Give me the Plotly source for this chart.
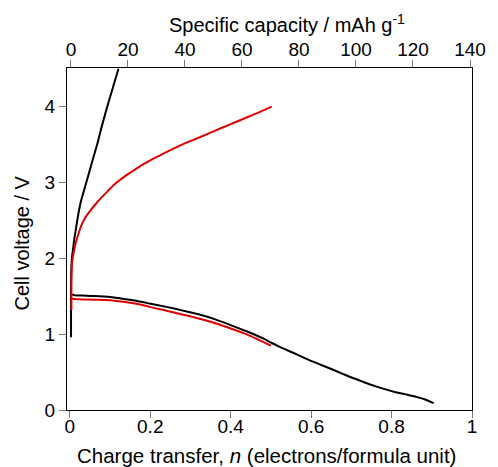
import plotly.graph_objects as go

# Charge transfer n (electrons per formula unit) and cell voltage (V)
black_dis_n = [0.006, 0.01, 0.03, 0.06, 0.10, 0.14, 0.18, 0.198, 0.24, 0.279, 0.32, 0.36,
               0.40, 0.441, 0.482, 0.50, 0.523, 0.555, 0.584, 0.62, 0.65, 0.677, 0.702,
               0.73, 0.759, 0.783, 0.81, 0.84, 0.864, 0.885, 0.905]
black_dis_v = [1.53, 1.515, 1.51, 1.504, 1.49, 1.46, 1.425, 1.404, 1.36, 1.314, 1.262, 1.198,
               1.12, 1.035, 0.94, 0.89, 0.83, 0.755, 0.685, 0.605, 0.54, 0.48, 0.425,
               0.37, 0.315, 0.275, 0.235, 0.20, 0.17, 0.135, 0.09]

black_chg_n = [0.003, 0.003, 0.004, 0.0055, 0.008, 0.011, 0.0146, 0.0185, 0.0228, 0.028,
               0.035, 0.042, 0.0495, 0.058, 0.068, 0.08, 0.093, 0.107, 0.121]
black_chg_v = [0.96, 1.55, 1.9, 2.02, 2.12, 2.25, 2.37, 2.5, 2.63, 2.76, 2.89, 3.02,
               3.16, 3.32, 3.5, 3.75, 4.0, 4.25, 4.5]

red_dis_n = [0.005, 0.01, 0.06, 0.10, 0.141, 0.181, 0.198, 0.24, 0.279, 0.32, 0.36, 0.40,
             0.441, 0.47, 0.50]
red_dis_v = [1.47, 1.465, 1.455, 1.447, 1.42, 1.385, 1.36, 1.31, 1.26, 1.207, 1.148, 1.075,
             0.995, 0.925, 0.85]

red_chg_n = [0.004, 0.004, 0.005, 0.007, 0.0106, 0.0145, 0.019, 0.025, 0.031, 0.04, 0.051,
             0.065, 0.08, 0.095, 0.112, 0.135, 0.159, 0.19, 0.222, 0.25, 0.279, 0.32, 0.36,
             0.40, 0.441, 0.47, 0.502]
red_chg_v = [1.32, 1.7, 1.9, 2.0, 2.1, 2.2, 2.28, 2.38, 2.46, 2.55, 2.63, 2.72, 2.81, 2.89,
             2.98, 3.075, 3.16, 3.262, 3.352, 3.427, 3.50, 3.59, 3.68, 3.77, 3.86, 3.925, 4.0]

x_ticks = [0, 0.2, 0.4, 0.6, 0.8, 1]
x_labels = ["0", "0.2", "0.4", "0.6", "0.8", "1"]
y_ticks = [0, 1, 2, 3, 4]
cap_ticks = [0, 20, 40, 60, 80, 100, 120, 140]

BLACK = "#000000"
RED = "#e00000"
FONT = "Liberation Sans, Arial, sans-serif"

fig = go.Figure()
for xs, ys, col in [(black_dis_n, black_dis_v, BLACK),
                    (red_dis_n, red_dis_v, RED),
                    (black_chg_n, black_chg_v, BLACK),
                    (red_chg_n, red_chg_v, RED)]:
    fig.add_trace(go.Scatter(x=xs, y=ys, mode="lines",
                             line=dict(color=col, width=2, shape="spline", smoothing=0.7),
                             showlegend=False))

# invisible trace to activate the top capacity axis
fig.add_trace(go.Scatter(x=[0], y=[0], xaxis="x2", mode="markers",
                         marker=dict(opacity=0), showlegend=False, hoverinfo="skip"))

tickfont = dict(family=FONT, size=19, color="#000")
fig.update_layout(
    width=498, height=467,
    margin=dict(l=67, r=19, t=68, b=57),
    paper_bgcolor="white", plot_bgcolor="white",
    font=dict(family=FONT, size=19, color="#000"),
    xaxis=dict(range=[-0.007, 1.0], tickvals=x_ticks, ticktext=x_labels,
               showgrid=False, zeroline=False, showline=True, linecolor="#000",
               linewidth=1, mirror=True, ticks="outside", ticklen=7,
               tickcolor="#777", tickwidth=1, tickfont=tickfont,
               ticklabelstandoff=-8),
    xaxis2=dict(range=[-1.38, 140.7], tickvals=cap_ticks, overlaying="x", side="top",
                showgrid=False, zeroline=False, showline=False, ticks="outside",
                ticklen=7, tickcolor="#777", tickwidth=1, tickfont=tickfont,
                ticklabelstandoff=-4),
    yaxis=dict(range=[0, 4.51], tickvals=y_ticks, showgrid=False, zeroline=False,
               showline=True, linecolor="#000", linewidth=1, mirror=True,
               ticks="outside", ticklen=7, tickcolor="#777", tickwidth=1,
               tickfont=tickfont),
    annotations=[
        dict(text="Charge transfer, <i>n</i> (electrons/formula unit)", xref="paper",
             yref="paper", x=0.4915, y=-0.1316, xanchor="center", yanchor="middle",
             showarrow=False, font=dict(family=FONT, size=20.5)),
        dict(text="Specific capacity / mAh g<sup>-1</sup>", xref="paper", yref="paper",
             x=0.544, y=1.13, xanchor="center", yanchor="middle",
             showarrow=False, font=dict(family=FONT, size=20)),
        dict(text="Cell voltage / V", xref="paper", yref="paper", x=-0.11, y=0.488,
             xanchor="center", yanchor="middle", textangle=-90,
             showarrow=False, font=dict(family=FONT, size=20)),
    ],
)

fig.write_html("out.html")
